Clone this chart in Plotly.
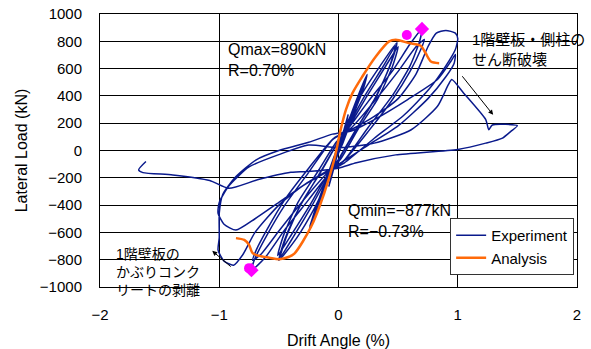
import plotly.graph_objects as go

# Experimental hysteresis: drift angle (%) and lateral load (kN), in loading order
exp_drift = [
    0.0, 0.03, 0.08, 0.05, 0.0, -0.03, -0.08, -0.05, 0.0,
    0.04, 0.12, 0.24, 0.21, 0.12, 0.03, -0.04, -0.13, -0.245, -0.21, -0.12, -0.03,
    0.04, 0.13, 0.23, 0.2, 0.11, 0.02, -0.05, -0.14, -0.24, -0.2, -0.11, -0.02,
    0.05, 0.2, 0.35, 0.49, 0.44, 0.32, 0.16, 0.02, -0.06, -0.2, -0.35, -0.5, -0.45, -0.33, -0.16, -0.02,
    0.06, 0.22, 0.37, 0.48, 0.43, 0.31, 0.15, 0.01, -0.07, -0.22, -0.37, -0.49, -0.44, -0.32, -0.15, -0.01,
    0.07, 0.24, 0.39, 0.5, 0.45, 0.33, 0.16, 0.02, -0.08, -0.24, -0.39, -0.51, -0.46, -0.34, -0.17, -0.02,
    0.08, 0.25, 0.45, 0.6, 0.70, 0.68, 0.6, 0.45, 0.25, 0.05,
    -0.08, -0.25, -0.45, -0.62, -0.73, -0.7, -0.6, -0.45, -0.25, -0.05,
    0.1, 0.3, 0.5, 0.65, 0.72, 0.69, 0.6, 0.45, 0.25, 0.04,
    -0.1, -0.3, -0.5, -0.65, -0.72, -0.69, -0.6, -0.45, -0.25, -0.04,
    0.1, 0.3, 0.5, 0.65, 0.75, 0.82, 0.9, 0.98, 1.0, 0.98, 0.9, 0.76, 0.55, 0.3, 0.05,
    -0.1, -0.3, -0.5, -0.7, -0.8, -0.88, -0.96, -1.01, -1.0, -1.0, -0.97, -0.86, -0.69, -0.5, -0.25, -0.05,
    0.1, 0.3, 0.58, 0.83, 0.94, 0.98, 0.97, 0.9, 0.75, 0.5, 0.25, 0.0,
    -0.25, -0.5, -0.7, -0.86, -0.96, -1.01, -1.0, -0.92, -0.75, -0.5, -0.25, 0.0,
    0.3, 0.61, 0.83, 0.92, 0.95, 1.05, 1.235, 1.26, 1.29, 1.5, 1.445, 1.375, 1.235, 1.0, 0.48, 0.15, 0.0,
    -0.2, -0.4, -0.68, -0.92, -1.08, -1.39, -1.64, -1.676, -1.615,
]
exp_load = [
    0, 100, 260, 150, 10, -100, -260, -150, -10,
    100, 300, 557, 460, 250, 40, -100, -320, -583, -470, -250, -30,
    110, 300, 520, 430, 230, 30, -110, -320, -555, -450, -230, -20,
    160, 420, 620, 790, 640, 400, 170, -40, -170, -420, -640, -804, -650, -420, -170, 40,
    150, 400, 610, 770, 620, 390, 160, -50, -160, -400, -620, -785, -640, -400, -160, 50,
    150, 400, 610, 760, 610, 380, 150, -60, -160, -400, -610, -770, -620, -380, -150, 60,
    160, 360, 580, 780, 890, 800, 620, 400, 170, -70,
    -170, -360, -580, -790, -877, -790, -620, -400, -160, 80,
    160, 360, 580, 760, 814, 740, 580, 370, 140, -80,
    -170, -370, -590, -760, -805, -730, -580, -360, -130, 90,
    150, 250, 380, 560, 760, 860, 880, 860, 820, 740, 620, 450, 260, 90, -90,
    -160, -260, -400, -600, -760, -840, -810, -730, -640, -460, -320, -191, -68, 0, 60, 120,
    140, 226, 373, 520, 650, 704, 640, 540, 380, 180, 40, -100,
    -230, -380, -500, -583, -540, -460, -380, -260, -120, -30, 40, 20,
    54, 152, 324, 480, 520, 420, 226, 152, 187, 182, 140, 91, 54, 8, -32, -90, -130,
    -150, -160, -215, -277, -220, -179, -162, -142, -81,
]

# Analytical skeleton curve
ana_drift = [-0.86, -0.79, -0.75, -0.72, -0.665, -0.58, -0.497, -0.42, -0.37, -0.23, -0.12,
             -0.036, 0.02, 0.062, 0.117, 0.2, 0.313, 0.425, 0.48, 0.59, 0.69, 0.73, 0.775, 0.844]
ana_load = [-642, -655, -691, -752, -772, -785, -796, -780, -755, -559, -313,
            -68, 160, 298, 420, 542, 689, 799, 811, 787, 767, 714, 652, 640]

# Peak markers (diamond: experiment, circle: analysis)
peak_exp_drift = [0.70, -0.73]
peak_exp_load = [890, -877]
peak_ana_drift = [0.573, -0.75]
peak_ana_load = [846, -862]

x_ticks = [-2, -1, 0, 1, 2]
y_ticks = [-1000, -800, -600, -400, -200, 0, 200, 400, 600, 800, 1000]

FONT = "Liberation Sans, Noto Sans CJK JP, sans-serif"
NAVY = "#0a1a8c"
ORANGE = "#ff6a0a"
MAGENTA = "#ff00ff"

fig = go.Figure()
fig.add_trace(go.Scatter(
    x=exp_drift, y=exp_load, mode="lines", name="Experiment",
    line=dict(color=NAVY, width=1.5, shape="spline", smoothing=0.6),
))
fig.add_trace(go.Scatter(
    x=ana_drift, y=ana_load, mode="lines", name="Analysis",
    line=dict(color=ORANGE, width=2.5, shape="spline", smoothing=0.8),
))
fig.add_trace(go.Scatter(
    x=peak_ana_drift, y=peak_ana_load, mode="markers", showlegend=False,
    marker=dict(symbol="circle", size=10, color=MAGENTA),
))
fig.add_trace(go.Scatter(
    x=peak_exp_drift, y=peak_exp_load, mode="markers", showlegend=False,
    marker=dict(symbol="diamond", size=11, color=MAGENTA),
))

text_font = dict(family=FONT, size=16, color="black")
jp_font = dict(family=FONT, size=15, color="black")
annotations = [
    dict(x=-0.94, y=660, text="Qmax=890kN<br>R=0.70%", font=text_font),
    dict(x=0.06, y=-520, text="Qmin=\u2212877kN<br>R=\u22120.73%", font=text_font),
    dict(x=1.10, y=740, text="1階壁板・側柱の<br>せん断破壊", font=jp_font),
    dict(x=-1.88, y=-890, text="1階壁板の<br>かぶりコンク<br>リートの剥離",
         font=dict(family=FONT, size=14, color="black")),
]
for a in annotations:
    fig.add_annotation(xref="x", yref="y", xanchor="left", yanchor="middle",
                       align="left", showarrow=False, **a)

# Pointer arrows to the damage events
arrows = [
    dict(x=1.297, y=261, ax=1.028, ay=555),
    dict(x=-1.059, y=-735, ax=-0.891, ay=-860),
]
for a in arrows:
    fig.add_annotation(xref="x", yref="y", axref="x", ayref="y", text="",
                       showarrow=True, arrowhead=2, arrowsize=1, arrowwidth=1,
                       arrowcolor="black", **a)

axis_common = dict(
    showgrid=True, gridcolor="black", gridwidth=1,
    showline=True, linecolor="black", linewidth=1, mirror=True,
    zeroline=False, ticks="", automargin=False,
    tickfont=dict(family=FONT, size=15, color="black"),
)
fig.update_xaxes(range=[-2, 2], tickvals=x_ticks, ticklabelstandoff=14,
                 title=dict(text="Drift Angle (%)", font=dict(family=FONT, size=16, color="black"),
                            standoff=16),
                 **axis_common)
fig.update_yaxes(range=[-1000, 1000], tickvals=y_ticks, ticklabelstandoff=14,
                 title=dict(text="Lateral Load (kN)", font=dict(family=FONT, size=16, color="black"),
                            standoff=8),
                 **axis_common)

fig.update_layout(
    width=591, height=349,
    margin=dict(l=100, r=14, t=14, b=62),
    paper_bgcolor="white", plot_bgcolor="white",
    font=dict(family=FONT, color="black"),
    legend=dict(x=0.994, y=0.044, xanchor="right", yanchor="bottom",
                bgcolor="white", bordercolor="#333333", borderwidth=1,
                font=dict(family=FONT, size=15, color="black"),
                itemwidth=30, tracegroupgap=0),
)

fig.write_html("out.html")
